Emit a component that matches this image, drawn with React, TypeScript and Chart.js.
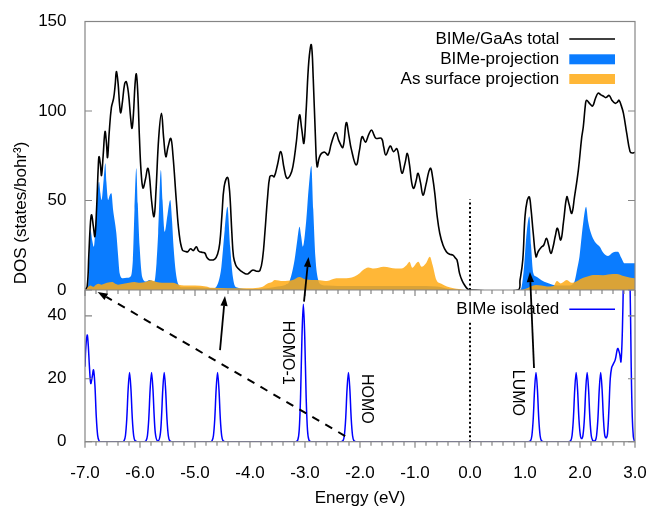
import React, { useEffect, useRef } from 'react';
import { Chart, registerables } from 'chart.js';

Chart.register(...registerables);

// ---------- data (energy in eV, DOS values) ----------
const totalDOS: [number, number][] = [
  [-7.0, 0], [-6.96, 2], [-6.93, 20], [-6.9, 38], [-6.88, 42], [-6.85, 36], [-6.82, 30], [-6.79, 45],
  [-6.76, 68], [-6.745, 74.5], [-6.72, 70], [-6.7, 64], [-6.67, 75], [-6.636, 88.5], [-6.61, 82],
  [-6.59, 74], [-6.56, 88], [-6.52, 102], [-6.48, 107], [-6.45, 115], [-6.43, 122], [-6.4, 116],
  [-6.37, 103], [-6.35, 99], [-6.32, 105], [-6.28, 115], [-6.25, 116.4], [-6.21, 110], [-6.17, 96],
  [-6.145, 90.3], [-6.12, 98], [-6.09, 115], [-6.067, 120.7], [-6.04, 110], [-6.01, 85], [-5.98, 66],
  [-5.945, 57], [-5.9, 62], [-5.86, 68], [-5.83, 64], [-5.79, 50], [-5.745, 41], [-5.71, 55],
  [-5.66, 85], [-5.61, 98.7], [-5.57, 85], [-5.53, 74.5], [-5.49, 80], [-5.44, 84.7], [-5.4, 75],
  [-5.34, 50], [-5.29, 32], [-5.23, 22.3], [-5.17, 21.5], [-5.13, 21.4], [-5.08, 23], [-5.03, 22],
  [-4.976, 24.2], [-4.94, 22], [-4.915, 21.4], [-4.86, 21], [-4.82, 20.6], [-4.78, 18], [-4.73, 16.8],
  [-4.64, 17.3], [-4.59, 20], [-4.55, 26], [-4.51, 42], [-4.47, 57.7], [-4.41, 63], [-4.38, 58],
  [-4.36, 50.3], [-4.33, 32], [-4.3, 18.6], [-4.26, 14], [-4.22, 12.1], [-4.16, 10.5], [-4.1, 9.3],
  [-4.04, 9], [-3.98, 10.5], [-3.945, 11.2], [-3.88, 10.5], [-3.82, 10.8], [-3.77, 18], [-3.73, 31.7],
  [-3.68, 52], [-3.64, 63.3], [-3.6, 64], [-3.56, 63.3], [-3.5, 70], [-3.44, 77.3], [-3.38, 68],
  [-3.33, 62.4], [-3.27, 64], [-3.22, 68.9], [-3.16, 82], [-3.1, 97.8], [-3.06, 90], [-3.02, 82],
  [-2.98, 100], [-2.93, 128], [-2.885, 137], [-2.85, 118], [-2.81, 85], [-2.78, 68.9], [-2.74, 74],
  [-2.7, 76.3], [-2.64, 77], [-2.58, 75.4], [-2.52, 82], [-2.44, 88], [-2.38, 83], [-2.31, 79.7],
  [-2.25, 93.5], [-2.2, 86], [-2.16, 79], [-2.07, 69.8], [-2.01, 78], [-1.96, 85.7], [-1.9, 82.6],
  [-1.84, 87], [-1.79, 89.4], [-1.75, 87], [-1.71, 84.7], [-1.61, 84.7], [-1.57, 80], [-1.53, 75.4],
  [-1.45, 80.4], [-1.39, 77.3], [-1.33, 79], [-1.28, 72], [-1.236, 65.2], [-1.18, 71], [-1.14, 76.3],
  [-1.1, 70], [-1.06, 60], [-1.024, 56.8], [-0.98, 61], [-0.945, 65.2], [-0.9, 60], [-0.855, 53],
  [-0.8, 59], [-0.75, 66], [-0.715, 68], [-0.68, 63], [-0.64, 54], [-0.6, 42], [-0.55, 31.7],
  [-0.49, 25], [-0.43, 21.4], [-0.37, 20], [-0.31, 19.5], [-0.27, 18], [-0.236, 16.8], [-0.19, 9.3],
  [-0.14, 5], [-0.1, 2.8], [-0.05, 0.8], [0.0, 0], [0.87, 0], [0.91, 5.6], [0.96, 17], [1.0, 41],
  [1.04, 50], [1.078, 52], [1.11, 45], [1.15, 31.7], [1.2, 18.6], [1.24, 21.5], [1.3, 24], [1.34, 25],
  [1.39, 28.9], [1.43, 25], [1.47, 20.5], [1.51, 24], [1.55, 30], [1.59, 34.5], [1.65, 27.9],
  [1.7, 38], [1.76, 52], [1.8, 48], [1.85, 42.8], [1.9, 52], [1.97, 67], [2.03, 85], [2.06, 91.2],
  [2.1, 104], [2.12, 106], [2.18, 104], [2.23, 102.8], [2.28, 107], [2.33, 110], [2.38, 109],
  [2.42, 108.4], [2.47, 107.5], [2.53, 108.7], [2.58, 106], [2.64, 104.3], [2.68, 105], [2.71, 106],
  [2.75, 103], [2.79, 98.7], [2.85, 87.5], [2.91, 77.3], [2.95, 76.5], [3.0, 77],
];

const bimeProjection: [number, number][] = [
  [-7.0, 0], [-6.95, 0.5], [-6.92, 20], [-6.9, 33.5], [-6.87, 28], [-6.84, 24.2], [-6.8, 40],
  [-6.76, 58], [-6.745, 60.5], [-6.72, 54], [-6.7, 50.3], [-6.66, 62], [-6.63, 70.8], [-6.61, 60],
  [-6.58, 50.3], [-6.55, 53], [-6.52, 54], [-6.49, 45], [-6.43, 31.7], [-6.4, 20], [-6.37, 9.3],
  [-6.31, 6.5], [-6.24, 6.8], [-6.18, 7.3], [-6.13, 16.8], [-6.1, 45], [-6.067, 68], [-6.04, 48],
  [-6.006, 24], [-5.96, 7.3], [-5.885, 4.7], [-5.83, 5.6], [-5.74, 4.7], [-5.7, 15], [-5.67, 31.7],
  [-5.62, 67], [-5.59, 50], [-5.55, 32.6], [-5.5, 42], [-5.45, 50.3], [-5.42, 40], [-5.39, 24.2],
  [-5.35, 10], [-5.31, 3.7], [-5.22, 1.5], [-5.0, 1.5], [-4.65, 1], [-4.61, 2], [-4.56, 6],
  [-4.52, 13], [-4.46, 33.5], [-4.41, 46.5], [-4.36, 24], [-4.31, 7], [-4.25, 1.5], [-4.0, 0.5],
  [-3.7, 1], [-3.5, 2], [-3.35, 3], [-3.28, 5], [-3.19, 16.8], [-3.14, 28], [-3.1, 35.4],
  [-3.07, 30], [-3.04, 24.2], [-2.98, 38], [-2.93, 58], [-2.885, 69.3], [-2.85, 45], [-2.81, 18],
  [-2.76, 5.6], [-2.7, 3], [-2.6, 2.5], [-2.2, 2.2], [-1.6, 2.3], [-1.0, 2.2], [-0.6, 2],
  [-0.45, 1], [-0.3, 0.3], [-0.1, 0], [0.9, 0], [0.94, 2], [0.98, 12], [1.03, 32], [1.08, 41],
  [1.11, 25], [1.15, 9.5], [1.2, 7.6], [1.3, 5.5], [1.4, 4], [1.5, 3], [1.65, 2.5], [1.8, 2.5],
  [1.9, 4.7], [1.95, 12], [1.99, 18.6], [2.03, 30], [2.06, 38], [2.11, 46.5], [2.15, 38],
  [2.2, 31.7], [2.27, 27], [2.36, 24.2], [2.42, 21], [2.51, 19], [2.6, 21], [2.69, 21.4],
  [2.75, 18], [2.81, 14.9], [2.9, 15], [3.0, 15],
];

const asSurfaceProjection: [number, number][] = [
  [-7.0, 0], [-6.95, 1.5], [-6.9, 2.5], [-6.85, 1.8], [-6.8, 3], [-6.75, 3.5], [-6.7, 3],
  [-6.65, 3.5], [-6.6, 4], [-6.5, 4.5], [-6.45, 3.5], [-6.4, 3], [-6.3, 3.5], [-6.2, 4],
  [-6.1, 4.5], [-6.0, 4], [-5.9, 4.5], [-5.8, 5.4], [-5.7, 4.5], [-5.6, 4], [-5.4, 4],
  [-5.3, 3], [-5.2, 2.5], [-5.0, 2.5], [-4.8, 2], [-4.7, 1.2], [-4.4, 1], [-4.0, 1], [-3.8, 1.5],
  [-3.68, 3.7], [-3.6, 4.5], [-3.55, 5.6], [-3.4, 5], [-3.22, 5.6], [-3.1, 7.2], [-3.0, 6],
  [-2.85, 5.6], [-2.73, 5.5], [-2.6, 5], [-2.43, 6.5], [-2.3, 6.5], [-2.1, 7.5], [-2.0, 9.5],
  [-1.95, 11], [-1.85, 12.6], [-1.75, 12], [-1.57, 13], [-1.45, 12.5], [-1.35, 12], [-1.25, 12],
  [-1.15, 14], [-1.1, 15.8], [-1.05, 12.5], [-0.94, 15.8], [-0.88, 13], [-0.8, 15], [-0.73, 18.6],
  [-0.68, 14], [-0.61, 5.6], [-0.52, 3.5], [-0.42, 1.9], [-0.3, 1], [-0.2, 0.5], [-0.1, 0],
  [0.9, 0], [1.0, 0.5], [1.1, 2], [1.2, 2.8], [1.3, 2.5], [1.4, 2], [1.52, 2.3], [1.58, 5],
  [1.65, 3.7], [1.76, 5.6], [1.85, 4], [1.95, 5], [2.0, 6], [2.12, 7.4], [2.24, 8.4], [2.42, 8.3],
  [2.6, 8.9], [2.67, 8.9], [2.79, 7.8], [2.9, 7], [3.0, 6.5],
];

const bimeIsolated: [number, number][] = [
  [-7.0, 23.8], [-6.985, 30], [-6.96, 33.9], [-6.94, 30.5], [-6.92, 24], [-6.895, 18.5],
  [-6.87, 20.5], [-6.845, 22.8], [-6.82, 18], [-6.795, 8], [-6.77, 2], [-6.745, 0.3], [-6.71, 0],
  [-6.32, 0], [-6.29, 0.3], [-6.265, 1.9], [-6.24, 7.4], [-6.215, 16.8], [-6.19, 22], [-6.165, 16.8],
  [-6.14, 7.4], [-6.115, 1.9], [-6.09, 0.3], [-6.05, 0],
  [-5.92, 0], [-5.89, 0.3], [-5.865, 1.9], [-5.84, 7.4], [-5.815, 16.8], [-5.79, 22], [-5.765, 16.8],
  [-5.74, 7.4], [-5.715, 1.9], [-5.675, 0.2], [-5.635, 1.9], [-5.61, 7.4], [-5.585, 16.8],
  [-5.56, 22], [-5.535, 16.8], [-5.51, 7.4], [-5.485, 1.9], [-5.46, 0.3], [-5.42, 0],
  [-4.72, 0], [-4.69, 0.3], [-4.665, 1.9], [-4.64, 7.4], [-4.615, 16.8], [-4.59, 22], [-4.565, 16.8],
  [-4.54, 7.4], [-4.515, 1.9], [-4.49, 0.3], [-4.45, 0],
  [-3.17, 0], [-3.13, 0.6], [-3.105, 3.8], [-3.08, 14.8], [-3.055, 33.5], [-3.03, 43.7],
  [-3.005, 33.5], [-2.98, 14.8], [-2.955, 3.8], [-2.93, 0.6], [-2.89, 0],
  [-2.35, 0], [-2.31, 0.3], [-2.285, 1.9], [-2.26, 7.4], [-2.235, 16.8], [-2.21, 22], [-2.185, 16.8],
  [-2.16, 7.4], [-2.135, 1.9], [-2.11, 0.3], [-2.07, 0],
  [1.06, 0], [1.1, 0.3], [1.125, 1.9], [1.15, 7.4], [1.175, 16.8], [1.2, 22], [1.225, 16.8],
  [1.25, 7.4], [1.275, 1.9], [1.3, 0.3], [1.34, 0],
  [1.79, 0], [1.83, 0.3], [1.855, 1.9], [1.88, 7.4], [1.905, 16.8], [1.93, 22], [1.955, 16.8],
  [1.98, 7.4], [2.005, 2.2], [2.03, 1.0], [2.055, 2.2], [2.08, 7.4], [2.105, 16.8], [2.13, 22],
  [2.155, 16.8], [2.18, 7.4], [2.205, 1.9], [2.23, 0.4], [2.255, 0.2], [2.28, 0.4], [2.301, 1.9],
  [2.326, 7.4], [2.351, 16.8], [2.376, 22], [2.401, 16.8], [2.426, 7.4], [2.451, 1.9], [2.476, 1.2],
  [2.5, 2.5], [2.525, 10], [2.55, 20], [2.575, 23.5], [2.6, 24.5], [2.64, 26], [2.685, 29.6],
  [2.72, 28], [2.745, 25.4], [2.77, 35], [2.79, 52], [2.81, 68], [2.86, 80], [2.91, 50],
  [2.93, 25], [2.95, 8], [2.97, 1.6], [2.985, 0.5], [3.0, 0.2],
];

// Fermi level marker (E = 0) in each panel
const fermiTop: [number, number][] = [[0, 0], [0, 50.6]];
const fermiBottom: [number, number][] = [[0, 0], [0, 38]];

// axis ranges and ticks
const energyMin = -7;
const energyMax = 3;
const topMax = 150;
const bottomMax = 48.2;
const topStep = 50;
const bottomStep = 20;

// annotations (data coordinates)
const arrows = [
  { from: [-2.27, 1.8, 'yBot'], to: [-6.77, 47.6, 'yBot'], dashed: true },
  { from: [-4.545, 29.1, 'yBot'], to: [-4.455, 46.3, 'yBot'], dashed: false },
  { from: [-3.018, 44.5, 'yBot'], to: [-2.936, 18.5, 'yTop'], dashed: false },
  { from: [1.164, 23.4, 'yBot'], to: [1.09, 10, 'yTop'], dashed: false },
];
const peakLabels = [
  { text: 'HOMO-1', x: -3.327, y: 28.3 },
  { text: 'HOMO', x: -1.878, y: 13.6 },
  { text: 'LUMO', x: 0.864, y: 15.5 },
];

const FONT = '"Liberation Sans", Arial, Helvetica, sans-serif';
const BLUE_FILL = '#0a7cff';
const ORANGE_FILL = 'rgba(255,170,20,0.85)';
const toPts = (a: [number, number][]) => a.map(([x, y]) => ({ x, y }));

const framePlugin = {
  id: 'frame',
  beforeDatasetDraw(chart: any, args: any) {
    const ds = chart.data.datasets[args.index];
    const ys = chart.scales[ds.yAxisID];
    const ca = chart.chartArea;
    const ctx = chart.ctx;
    ctx.save();
    ctx.beginPath();
    ctx.rect(ca.left - 2, ys.top, ca.right - ca.left + 4, ys.bottom - ys.top + 1.5);
    ctx.clip();
  },
  afterDatasetDraw(chart: any) {
    chart.ctx.restore();
  },
  afterDatasetsDraw(chart: any) {
    const ctx = chart.ctx;
    const ca = chart.chartArea;
    const xs = chart.scales.x;
    const yt = chart.scales.yTop;
    const yb = chart.scales.yBot;

    // frame
    ctx.save();
    ctx.strokeStyle = '#858585';
    ctx.lineWidth = 1.2;
    ctx.strokeRect(ca.left, ca.top, ca.right - ca.left, ca.bottom - ca.top);
    ctx.beginPath();
    ctx.moveTo(ca.left, yt.bottom);
    ctx.lineTo(ca.right, yt.bottom);
    ctx.stroke();

    // y ticks (inward, both sides)
    ctx.beginPath();
    for (const t of yt.ticks) {
      const p = yt.getPixelForValue(t.value);
      ctx.moveTo(ca.left, p); ctx.lineTo(ca.left + 7, p);
      ctx.moveTo(ca.right, p); ctx.lineTo(ca.right - 7, p);
    }
    for (const t of yb.ticks) {
      const p = yb.getPixelForValue(t.value);
      ctx.moveTo(ca.left, p); ctx.lineTo(ca.left + 7, p);
      ctx.moveTo(ca.right, p); ctx.lineTo(ca.right - 7, p);
    }
    // x ticks: major each 1 eV, minor each 0.2 eV
    for (let i = 0; i <= (energyMax - energyMin) * 5; i++) {
      const e = energyMin + i * 0.2;
      const p = xs.getPixelForValue(e);
      const len = i % 5 === 0 ? 6 : 4;
      ctx.moveTo(p, yt.bottom); ctx.lineTo(p, yt.bottom + len);
      ctx.moveTo(p, ca.bottom); ctx.lineTo(p, ca.bottom + len);
    }
    ctx.stroke();
    ctx.restore();

    // arrows
    ctx.save();
    ctx.strokeStyle = '#000';
    ctx.fillStyle = '#000';
    for (const a of arrows) {
      const x1 = xs.getPixelForValue(a.from[0] as number);
      const y1 = chart.scales[a.from[2] as string].getPixelForValue(a.from[1] as number);
      const x2 = xs.getPixelForValue(a.to[0] as number);
      const y2 = chart.scales[a.to[2] as string].getPixelForValue(a.to[1] as number);
      const ang = Math.atan2(y2 - y1, x2 - x1);
      const hl = 10, hw = 3.6;
      const bx = x2 - hl * Math.cos(ang), by = y2 - hl * Math.sin(ang);
      ctx.lineWidth = a.dashed ? 2 : 1.8;
      ctx.setLineDash(a.dashed ? [8, 7] : []);
      ctx.beginPath();
      ctx.moveTo(x1, y1);
      ctx.lineTo(bx, by);
      ctx.stroke();
      ctx.setLineDash([]);
      ctx.beginPath();
      ctx.moveTo(x2, y2);
      ctx.lineTo(bx + hw * Math.sin(ang), by - hw * Math.cos(ang));
      ctx.lineTo(bx - hw * Math.sin(ang), by + hw * Math.cos(ang));
      ctx.closePath();
      ctx.fill();
    }
    ctx.restore();

    // rotated peak labels
    ctx.save();
    ctx.fillStyle = '#000';
    ctx.font = `16px ${FONT}`;
    ctx.textAlign = 'center';
    ctx.textBaseline = 'middle';
    for (const l of peakLabels) {
      const px = xs.getPixelForValue(l.x);
      const py = yb.getPixelForValue(l.y);
      ctx.save();
      ctx.translate(px, py);
      ctx.rotate(Math.PI / 2);
      ctx.fillText(l.text, 0, 0);
      ctx.restore();
    }
    ctx.restore();

    // legends
    ctx.save();
    ctx.font = `17px ${FONT}`;
    ctx.textAlign = 'right';
    ctx.textBaseline = 'middle';
    ctx.fillStyle = '#000';
    const tx = ca.right - 75.7;
    const sx1 = ca.right - 65.7;
    const sx2 = ca.right - 20;
    const r1 = yt.top + 17.5, r2 = yt.top + 37.8, r3 = yt.top + 57.5, r4 = yb.top + 19.3;
    ctx.fillText('BIMe/GaAs total', tx, r1);
    ctx.fillText('BIMe-projection', tx, r2);
    ctx.fillText('As surface projection', tx, r3);
    ctx.fillText('BIMe isolated', tx, r4);
    ctx.strokeStyle = '#000';
    ctx.lineWidth = 1.6;
    ctx.beginPath(); ctx.moveTo(sx1, r1); ctx.lineTo(sx2, r1); ctx.stroke();
    ctx.fillStyle = BLUE_FILL;
    ctx.fillRect(sx1, r2 - 5, sx2 - sx1, 10);
    ctx.fillStyle = ORANGE_FILL;
    ctx.fillRect(sx1, r3 - 5, sx2 - sx1, 10);
    ctx.strokeStyle = '#0000ff';
    ctx.lineWidth = 1.5;
    ctx.beginPath(); ctx.moveTo(sx1, r4); ctx.lineTo(sx2, r4); ctx.stroke();
    ctx.restore();

    // axis titles
    ctx.save();
    ctx.fillStyle = '#000';
    ctx.font = `17px ${FONT}`;
    ctx.textAlign = 'center';
    ctx.textBaseline = 'middle';
    ctx.fillText('Energy (eV)', (ca.left + ca.right) / 2, ca.bottom + 56.5);
    ctx.translate(21.7, ca.top + 191.5);
    ctx.rotate(-Math.PI / 2);
    ctx.fillText('DOS (states/bohr³)', 0, 0);
    ctx.restore();
  },
};

export default function App() {
  const ref = useRef<HTMLCanvasElement | null>(null);
  useEffect(() => {
    if (!ref.current) return;
    const tickFont = { size: 17, family: FONT };
    const chart = new Chart(ref.current, {
      type: 'line',
      data: {
        datasets: [
          {
            label: 'BIMe-projection', data: toPts(bimeProjection), yAxisID: 'yTop', order: 3,
            borderWidth: 0, borderColor: 'rgba(0,0,0,0)', backgroundColor: BLUE_FILL,
            fill: 'origin', pointRadius: 0, cubicInterpolationMode: 'monotone',
          },
          {
            label: 'As surface projection', data: toPts(asSurfaceProjection), yAxisID: 'yTop', order: 2,
            borderWidth: 0, borderColor: 'rgba(0,0,0,0)', backgroundColor: ORANGE_FILL,
            fill: 'origin', pointRadius: 0, cubicInterpolationMode: 'monotone',
          },
          {
            label: 'BIMe/GaAs total', data: toPts(totalDOS), yAxisID: 'yTop', order: 1,
            borderWidth: 1.6, borderColor: '#000', fill: false, pointRadius: 0, tension: 0.4,
          },
          {
            label: 'BIMe isolated', data: toPts(bimeIsolated), yAxisID: 'yBot', order: 0,
            borderWidth: 1.5, borderColor: '#0000ff', fill: false, pointRadius: 0, tension: 0.35,
          },
          {
            label: 'Ef top', data: toPts(fermiTop), yAxisID: 'yTop', order: 0, borderWidth: 2,
            borderColor: '#000', borderDash: [2, 2.5], fill: false, pointRadius: 0,
          },
          {
            label: 'Ef bottom', data: toPts(fermiBottom), yAxisID: 'yBot', order: 0, borderWidth: 2,
            borderColor: '#000', borderDash: [2, 2.5], fill: false, pointRadius: 0,
          },
        ],
      },
      options: {
        animation: false,
        responsive: false,
        events: [],
        layout: { padding: { left: 0, right: 15, top: 21.5, bottom: 0 } },
        plugins: { legend: { display: false }, tooltip: { enabled: false } },
        scales: {
          x: {
            type: 'linear', position: 'bottom', min: energyMin, max: energyMax,
            grid: { display: false }, border: { display: false },
            ticks: {
              stepSize: 1, autoSkip: false, maxRotation: 0, color: '#000', font: tickFont, padding: 13,
              callback: (v: any) => Number(v).toFixed(1),
            },
            afterFit: (s: any) => { s.height = 65.3; s.paddingLeft = 0; s.paddingRight = 0; },
          },
          yTop: {
            type: 'linear', position: 'left', stack: 'dos', stackWeight: 268.5, weight: 2,
            min: 0, max: topMax,
            grid: { display: false }, border: { display: false },
            ticks: { stepSize: topStep, color: '#000', font: tickFont, padding: 10.5, includeBounds: false },
            afterFit: (s: any) => { s.width = 85; s.paddingTop = 0; s.paddingBottom = 0; },
          },
          yBot: {
            type: 'linear', position: 'left', stack: 'dos', stackWeight: 151.7, weight: 1,
            min: 0, max: bottomMax,
            grid: { display: false }, border: { display: false },
            ticks: { stepSize: bottomStep, color: '#000', font: tickFont, padding: 10.5, includeBounds: false },
            afterFit: (s: any) => { s.width = 85; s.paddingTop = 0; s.paddingBottom = 0; },
          },
        },
      } as any,
      plugins: [framePlugin],
    });
    return () => chart.destroy();
  }, []);
  return (
    <div style={{ position: 'fixed', left: 0, top: 0, width: 650, height: 507, background: '#fff' }}>
      <canvas ref={ref} width={650} height={507} />
    </div>
  );
}
